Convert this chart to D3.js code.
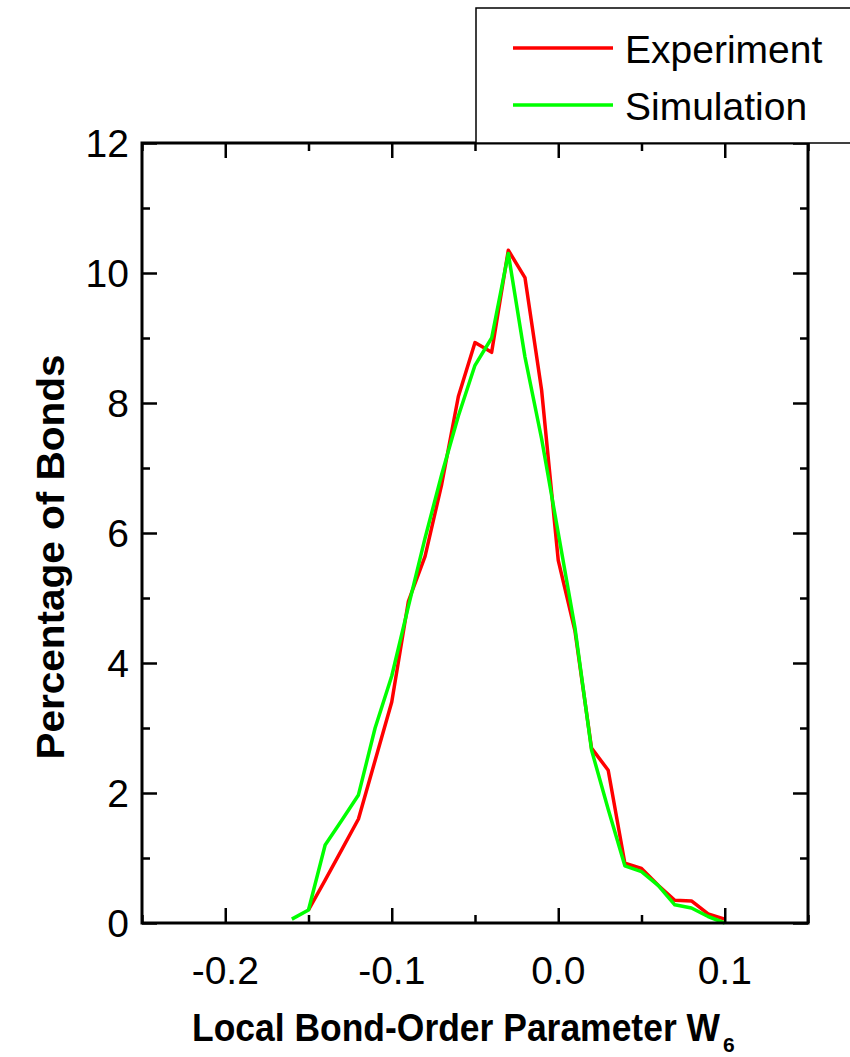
<!DOCTYPE html>
<html>
<head>
<meta charset="utf-8">
<script src="https://cdnjs.cloudflare.com/ajax/libs/d3/7.8.5/d3.min.js"></script>
<style>
  body { margin: 0; background: #fff; }
  text { font-family: "Liberation Sans", Arial, sans-serif; }
</style>
</head>
<body>
<svg id="viz-container" width="850" height="1057"></svg>
<script>
// w6 bins (x) and percentage of bonds per series
var expX = [-0.15, -0.14, -0.13, -0.12, -0.11, -0.10, -0.09, -0.08, -0.07, -0.06, -0.05, -0.04, -0.03,
            -0.02, -0.01, 0.00, 0.01, 0.02, 0.03, 0.04, 0.05, 0.06, 0.07, 0.08, 0.09, 0.10];
var expY = [0.2, 0.66, 1.13, 1.6, 2.5, 3.4, 4.95, 5.64, 6.75, 8.1, 8.93, 8.78, 10.35,
            9.93, 8.2, 5.58, 4.5, 2.69, 2.35, 0.92, 0.84, 0.58, 0.35, 0.34, 0.14, 0.06];
var simX = [-0.16, -0.15, -0.14, -0.13, -0.12, -0.11, -0.10, -0.09, -0.08, -0.07, -0.06, -0.05, -0.04,
            -0.03, -0.02, -0.01, 0.00, 0.01, 0.02, 0.03, 0.04, 0.05, 0.06, 0.07, 0.08, 0.09, 0.10];
var simY = [0.06, 0.2, 1.2, 1.58, 1.97, 3.0, 3.8, 4.87, 5.92, 6.9, 7.8, 8.58, 9.0,
            10.3, 8.71, 7.45, 6.0, 4.55, 2.66, 1.75, 0.88, 0.79, 0.58, 0.28, 0.23, 0.1, 0.0];
var seriesNames = ["Experiment", "Simulation"];
var seriesColors = ["#ff0000", "#00ff00"];
var xMajor = [-0.2, -0.1, 0.0, 0.1];
var xMinor = [-0.25, -0.15, -0.05, 0.05, 0.15];
var yMajor = [0, 2, 4, 6, 8, 10, 12];
var yMinor = [1, 3, 5, 7, 9, 11];

var svg = d3.select("#viz-container");

// plot frame (note: "top" is taken by window.top, so use plot_*)
var plot_left = 142, plot_right = 808, plot_top = 143, plot_bottom = 923;

var x = d3.scaleLinear().domain([-0.25, 0.15]).range([plot_left, plot_right]);
var y = d3.scaleLinear().domain([0, 12]).range([plot_bottom, plot_top]);

var series = [
  { name: seriesNames[0], color: seriesColors[0], pts: expX.map(function(d, i) { return [d, expY[i]]; }) },
  { name: seriesNames[1], color: seriesColors[1], pts: simX.map(function(d, i) { return [d, simY[i]]; }) }
];

var line = d3.line()
  .x(function(d) { return x(d[0]); })
  .y(function(d) { return y(d[1]); });

// curves
svg.append("g").attr("id", "lines-container")
  .selectAll("path")
  .data(series)
 .enter().append("path")
  .attr("d", function(d) { return line(d.pts); })
  .attr("fill", "none")
  .attr("stroke", function(d) { return d.color; })
  .attr("stroke-width", 3.5)
  .attr("stroke-linejoin", "round");

// axes: ticks point inward on all four sides
function tickAxis(axis, vals, size) {
  return axis.tickValues(vals).tickSize(size).tickSizeOuter(0).tickFormat("");
}

var frame = svg.append("g").attr("id", "axes");

frame.append("g").attr("transform", "translate(0," + plot_bottom + ")")
  .call(tickAxis(d3.axisTop(x), xMajor, 15));
frame.append("g").attr("transform", "translate(0," + plot_bottom + ")")
  .call(tickAxis(d3.axisTop(x), xMinor, 8));
frame.append("g").attr("transform", "translate(0," + plot_top + ")")
  .call(tickAxis(d3.axisBottom(x), xMajor, 15));
frame.append("g").attr("transform", "translate(0," + plot_top + ")")
  .call(tickAxis(d3.axisBottom(x), xMinor, 8));
frame.append("g").attr("transform", "translate(" + plot_left + ",0)")
  .call(tickAxis(d3.axisRight(y), yMajor, 15));
frame.append("g").attr("transform", "translate(" + plot_left + ",0)")
  .call(tickAxis(d3.axisRight(y), yMinor, 8));
frame.append("g").attr("transform", "translate(" + plot_right + ",0)")
  .call(tickAxis(d3.axisLeft(y), yMajor, 15));
frame.append("g").attr("transform", "translate(" + plot_right + ",0)")
  .call(tickAxis(d3.axisLeft(y), yMinor, 8));

frame.selectAll(".domain").remove();
frame.selectAll(".tick line").attr("stroke", "#000").attr("stroke-width", 2.5);

// legend box (sits on the top axis and runs off the right edge)
var legend = svg.append("g").attr("id", "legend");
legend.append("rect")
  .attr("x", 476).attr("y", 8)
  .attr("width", 400).attr("height", plot_top - 8)
  .attr("fill", "#fff").attr("stroke", "#000").attr("stroke-width", 1.5);

// box
frame.append("rect")
  .attr("x", plot_left).attr("y", plot_top)
  .attr("width", plot_right - plot_left).attr("height", plot_bottom - plot_top)
  .attr("fill", "none").attr("stroke", "#000").attr("stroke-width", 3);

// tick labels
svg.append("g").selectAll("text")
  .data(xMajor)
 .enter().append("text")
  .attr("x", function(d) { return x(d); })
  .attr("y", 984)
  .attr("text-anchor", "middle")
  .attr("font-size", 39)
  .text(function(d) { return d3.format(".1f")(d).replace("−", "-"); });

svg.append("g").selectAll("text")
  .data(yMajor)
 .enter().append("text")
  .attr("x", 129)
  .attr("y", function(d) { return y(d) + 14; })
  .attr("text-anchor", "end")
  .attr("font-size", 39)
  .text(function(d) { return d; });

// axis titles
var xt = svg.append("text")
  .attr("x", 192).attr("y", 1041)
  .attr("font-size", 38).attr("font-weight", "bold");
xt.append("tspan")
  .attr("textLength", 528).attr("lengthAdjust", "spacingAndGlyphs")
  .text("Local Bond-Order Parameter W");
xt.append("tspan").attr("dx", 3).attr("dy", 11).attr("font-size", 21).text("6");

svg.append("text")
  .attr("transform", "translate(64,557) rotate(-90)")
  .attr("text-anchor", "middle")
  .attr("font-size", 38).attr("font-weight", "bold")
  .attr("textLength", 405).attr("lengthAdjust", "spacingAndGlyphs")
  .text("Percentage of Bonds");

var item = legend.selectAll(".item")
  .data(series)
 .enter().append("g")
  .attr("class", "item")
  .attr("transform", function(d, i) { return "translate(0," + (48 + i * 57) + ")"; });

item.append("line")
  .attr("x1", 513).attr("x2", 613)
  .attr("stroke", function(d) { return d.color; })
  .attr("stroke-width", 3.5);

item.append("text")
  .attr("x", 625).attr("y", 15)
  .attr("font-size", 39)
  .text(function(d) { return d.name; });
</script>
</body>
</html>
